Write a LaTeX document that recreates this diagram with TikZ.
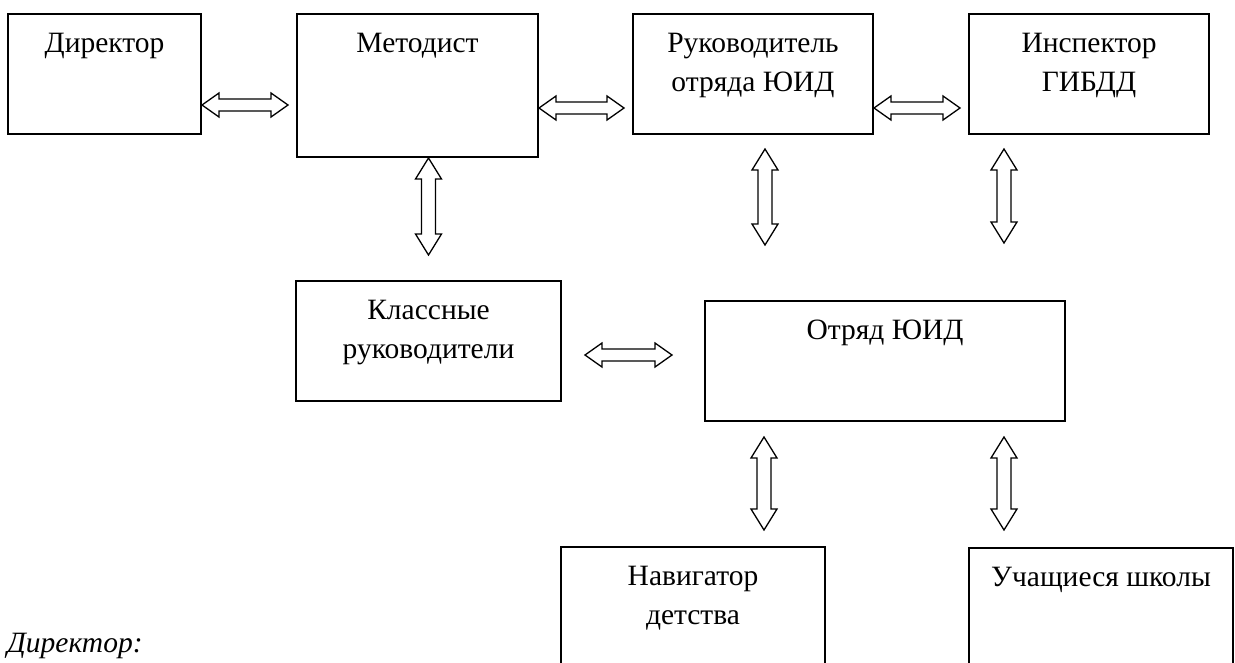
\documentclass[tikz,border=0pt]{standalone}
\usepackage{fontspec}
\setmainfont{Liberation Serif}
\usepackage{tikz}
\usetikzlibrary{calc}
\newcommand\hdbl[2]{
  \draw[line width=1.3pt, line join=miter] let \p1=#1, \p2=#2 in
    (\x1,\y1) -- (\x1+17pt,\y1+12pt) -- (\x1+17pt,\y1+6pt) -- (\x2-17pt,\y1+6pt) -- (\x2-17pt,\y1+12pt) -- (\x2,\y1)
    -- (\x2-17pt,\y1-12pt) -- (\x2-17pt,\y1-6pt) -- (\x1+17pt,\y1-6pt) -- (\x1+17pt,\y1-12pt) -- cycle;
}
\newcommand\vdbl[2]{
  \draw[line width=1.3pt, line join=miter] let \p1=#1, \p2=#2 in
    (\x1,\y1) -- (\x1+13pt,\y1-21pt) -- (\x1+7pt,\y1-21pt) -- (\x1+7pt,\y2+21pt) -- (\x1+13pt,\y2+21pt) -- (\x1,\y2)
    -- (\x1-13pt,\y2+21pt) -- (\x1-7pt,\y2+21pt) -- (\x1-7pt,\y1-21pt) -- (\x1-13pt,\y1-21pt) -- cycle;
}

\begin{document}
\begin{tikzpicture}[x=1pt, y=-1pt,
	box/.style={draw, line width=2pt, anchor=north west, inner sep=0pt, align=center, text height=38pt, font=\fontsize{29.5}{39}\selectfont},
	twoline/.style={text height=77pt}]
	\useasboundingbox (0,0) rectangle (1235,662);
	\clip (0,0) rectangle (1235,662);
	\node[box, minimum width=193pt, text depth=82pt] (dir) at (7,13) {Директор};
	\node[box, minimum width=241pt, text depth=105pt] (met) at (296,13) {Методист};
	\node[box, twoline, minimum width=240pt, text depth=43pt] (ruk) at (632,13) {Руководитель\\отряда ЮИД};
	\node[box, twoline, minimum width=240pt, text depth=43pt] (insp) at (968,13) {Инспектор\\ГИБДД};
	\node[box, twoline, minimum width=265pt, text depth=43pt] (kl) at (295,280) {Классные\\руководители};
	\node[box, minimum width=360pt, text depth=82pt] (otr) at (704,300) {Отряд ЮИД};
	\node[box, twoline, minimum width=264pt, text depth=61pt] (nav) at (560,546) {Навигатор\\детства};
	\node[box, minimum width=264pt, text depth=100pt] (uch) at (968,547) {Учащиеся школы};
	\node[anchor=base west, inner sep=0pt, font=\fontsize{29.5}{39}\selectfont\itshape] (cap) at (7,652) {Директор:};
	\hdbl{(dir.east |- 0,105)}{($(met.west |- 0,105)+(-8,0)$)}
	\hdbl{(met.east |- 0,108)}{($(ruk.west |- 0,108)+(-8,0)$)}
	\hdbl{(ruk.east |- 0,108)}{($(insp.west |- 0,108)+(-8,0)$)}
	\hdbl{($(kl.east |- 0,355)+(23,0)$)}{($(otr.west |- 0,355)+(-32,0)$)}
	\vdbl{(kl.north |- met.south)}{($(kl.north)+(0,-25)$)}
	\vdbl{($(ruk.south)+(12,14)$)}{($(otr.north -| ruk.south)+(12,-55)$)}
	\vdbl{($(insp.south west)+(36,14)$)}{($(otr.north -| insp.south west)+(36,-57)$)}
	\vdbl{($(otr.south west)+(60,15)$)}{($(nav.north west)+(204,-16)$)}
	\vdbl{($(otr.south west)+(300,15)$)}{($(uch.north west)+(36,-17)$)}
\end{tikzpicture}
\end{document}
